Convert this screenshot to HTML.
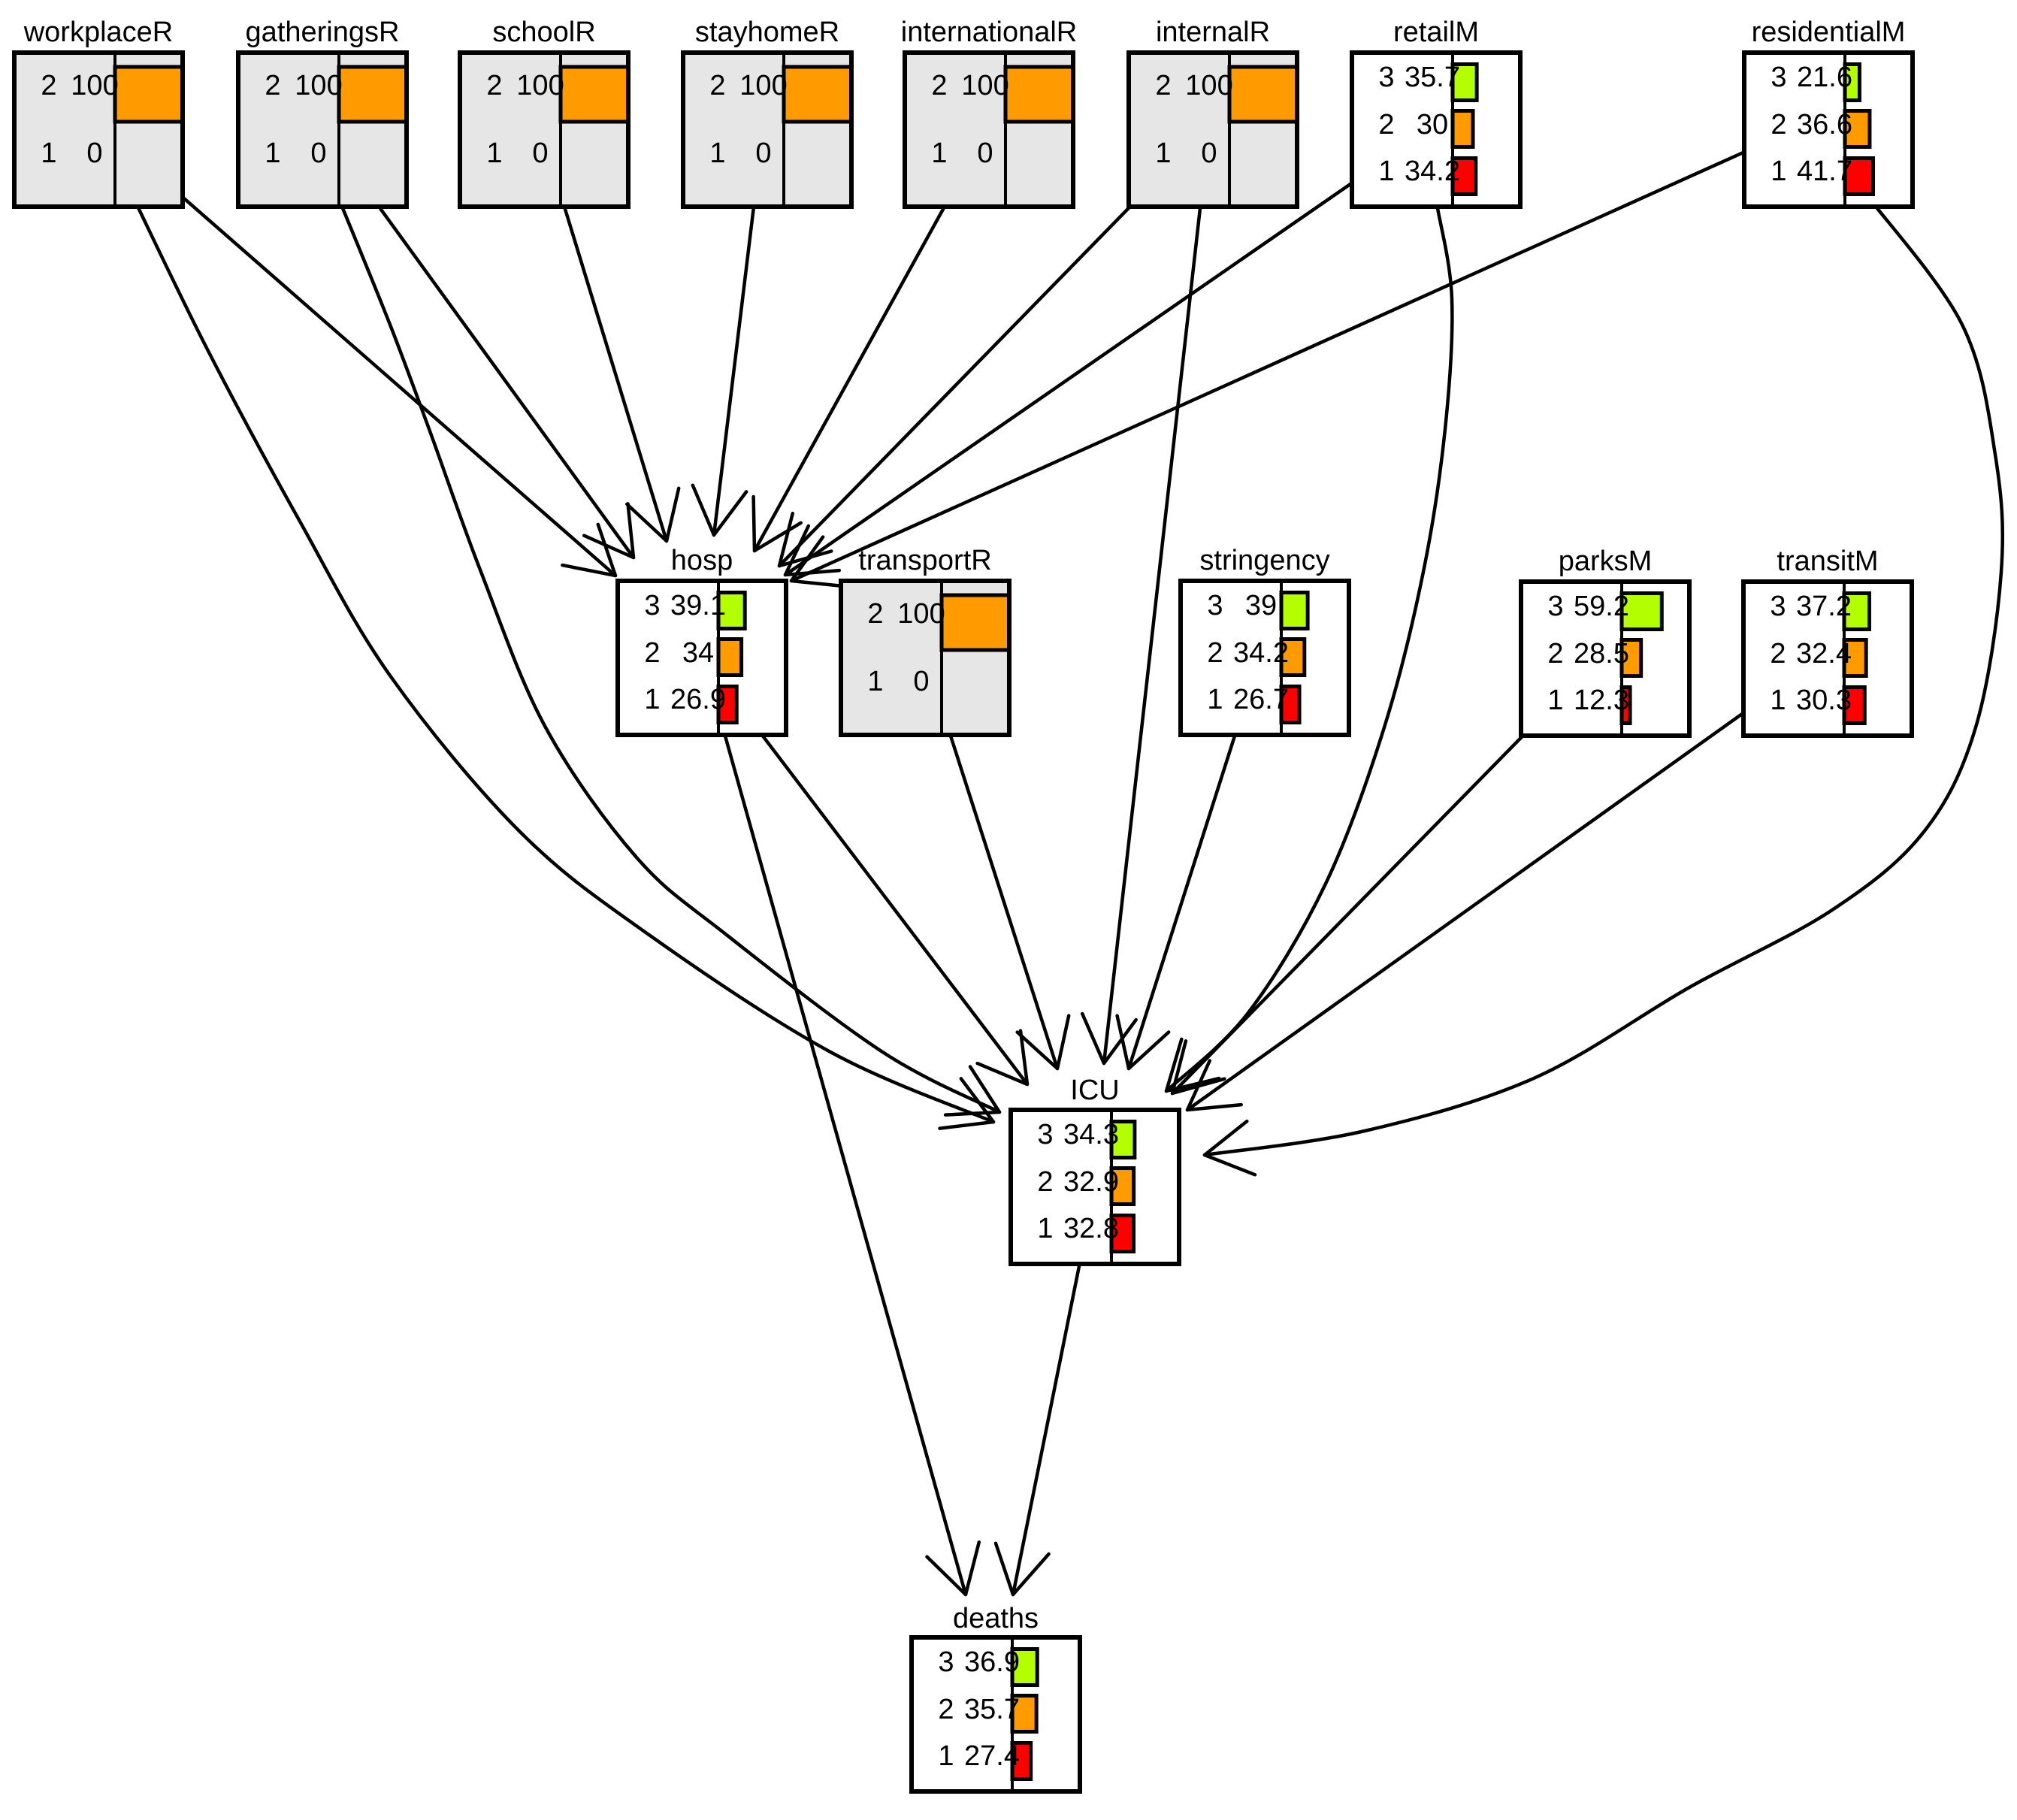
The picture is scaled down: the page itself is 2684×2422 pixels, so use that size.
<!DOCTYPE html>
<html><head><meta charset="utf-8"><style>
html,body{margin:0;padding:0;background:#fff;}
svg{display:block;}
text{font-family:"Liberation Sans",Arial,sans-serif;font-size:38px;fill:#000;}
</style></head><body>
<svg id="s" width="2684" height="2422" viewBox="0 0 2684 2422" xmlns="http://www.w3.org/2000/svg">
<g id="edges" fill="none" stroke="#000" stroke-width="4.5" stroke-linecap="round" stroke-linejoin="round"></g>
<g id="boxes"></g>
<g id="labels" text-anchor="middle">
<text x="131" y="55">workplaceR</text>
<text x="429" y="55">gatheringsR</text>
<text x="724" y="55">schoolR</text>
<text x="1021" y="55">stayhomeR</text>
<text x="1316" y="55">internationalR</text>
<text x="1614" y="55">internalR</text>
<text x="1911" y="55">retailM</text>
<text x="2433" y="55">residentialM</text>
<text x="934" y="758">hosp</text>
<text x="1231" y="758">transportR</text>
<text x="1683" y="758">stringency</text>
<text x="2136" y="759">parksM</text>
<text x="2432" y="759">transitM</text>
<text x="1457" y="1463">ICU</text>
<text x="1325" y="2166">deaths</text>

<text x="65" y="126">2</text><text x="126" y="126">100</text><text x="65" y="216">1</text><text x="126" y="216">0</text>
<text x="363" y="126">2</text><text x="424" y="126">100</text><text x="363" y="216">1</text><text x="424" y="216">0</text>
<text x="658" y="126">2</text><text x="719" y="126">100</text><text x="658" y="216">1</text><text x="719" y="216">0</text>
<text x="955" y="126">2</text><text x="1016" y="126">100</text><text x="955" y="216">1</text><text x="1016" y="216">0</text>
<text x="1250" y="126">2</text><text x="1311" y="126">100</text><text x="1250" y="216">1</text><text x="1311" y="216">0</text>
<text x="1548" y="126">2</text><text x="1609" y="126">100</text><text x="1548" y="216">1</text><text x="1609" y="216">0</text>
<text x="1165" y="829">2</text><text x="1226" y="829">100</text><text x="1165" y="919">1</text><text x="1226" y="919">0</text>

<text x="1845" y="115">3</text><text x="1906" y="115">35.7</text>
<text x="1845" y="178">2</text><text x="1906" y="178">30</text>
<text x="1845" y="240">1</text><text x="1906" y="240">34.2</text>

<text x="2367" y="115">3</text><text x="2428" y="115">21.6</text>
<text x="2367" y="178">2</text><text x="2428" y="178">36.6</text>
<text x="2367" y="240">1</text><text x="2428" y="240">41.7</text>

<text x="868" y="818">3</text><text x="929" y="818">39.1</text>
<text x="868" y="881">2</text><text x="929" y="881">34</text>
<text x="868" y="943">1</text><text x="929" y="943">26.9</text>

<text x="1617" y="818">3</text><text x="1678" y="818">39</text>
<text x="1617" y="881">2</text><text x="1678" y="881">34.2</text>
<text x="1617" y="943">1</text><text x="1678" y="943">26.7</text>

<text x="2070" y="819">3</text><text x="2131" y="819">59.2</text>
<text x="2070" y="882">2</text><text x="2131" y="882">28.5</text>
<text x="2070" y="944">1</text><text x="2131" y="944">12.3</text>

<text x="2366" y="819">3</text><text x="2427" y="819">37.2</text>
<text x="2366" y="882">2</text><text x="2427" y="882">32.4</text>
<text x="2366" y="944">1</text><text x="2427" y="944">30.3</text>

<text x="1391" y="1522">3</text><text x="1452" y="1522">34.3</text>
<text x="1391" y="1585">2</text><text x="1452" y="1585">32.9</text>
<text x="1391" y="1647">1</text><text x="1452" y="1647">32.8</text>

<text x="1259" y="2224">3</text><text x="1320" y="2224">36.9</text>
<text x="1259" y="2287">2</text><text x="1320" y="2287">35.7</text>
<text x="1259" y="2349">1</text><text x="1320" y="2349">27.4</text>
</g>
</svg>
<script>
(function(){
var NS="http://www.w3.org/2000/svg";
function el(p,t,a){var e=document.createElementNS(NS,t);for(var k in a)e.setAttribute(k,a[k]);p.appendChild(e);return e;}
var W=224,H=205,SP=134,RW=W-SP;
var G="#b3ff00",O="#ff9a00",R="#ff0000";
var nodes=[
[19,70,2],[317,70,2],[612,70,2],[909,70,2],[1204,70,2],[1502,70,2],
[1799,70,3,[35.7,30,34.2]],[2321,70,3,[21.6,36.6,41.7]],
[822,773,3,[39.1,34,26.9]],[1119,773,2],[1571,773,3,[39,34.2,26.7]],
[2024,774,3,[59.2,28.5,12.3]],[2320,774,3,[37.2,32.4,30.3]],
[1345,1477,3,[34.3,32.9,32.8]],[1213,2179,3,[36.9,35.7,27.4]]
];
var bx=document.getElementById("boxes");
nodes.forEach(function(n){
var x=n[0],y=n[1];
var grey=n[2]==2;
el(bx,"rect",{x:x,y:y,width:W,height:H,fill:grey?"#e6e6e6":"#fff",stroke:"none"});
if(grey){
el(bx,"rect",{x:x+SP,y:y+19,width:RW,height:73,fill:O,stroke:"#000","stroke-width":5});
}else{
var offs=[13,75,138],cols=[G,O,R];
for(var i=0;i<3;i++){
el(bx,"rect",{x:x+SP,y:y+offs[i]+2.5,width:Math.max(2,n[3][i]*RW/100),height:48,fill:cols[i],stroke:"#000","stroke-width":5});
}
}
el(bx,"line",{x1:x+SP,y1:y,x2:x+SP,y2:y+H,stroke:"#000","stroke-width":4});
el(bx,"rect",{x:x,y:y,width:W,height:H,fill:"none",stroke:"#000","stroke-width":6});
});
var edges=[
[[214,237],[819,766]],
[[177,262],[277,467],[398,692],[519,899],[692,1107],[865,1245],[1107,1401],[1322,1493]],
[[489,254],[843,742]],
[[456,277],[519,432],[571,571],[640,761],[726,968],[847,1141],[968,1245],[1176,1401],[1330,1480]],
[[751,275],[887,720]],
[[1003,275],[950,712]],
[[1264,262],[1004,733]],
[[1536,242],[1037,753]],
[[1597,277],[1469,1415]],
[[1820,229],[1045,765]],
[[1913,277],[1932,398],[1923,571],[1894,761],[1842,968],[1764,1176],[1660,1349],[1552,1452]],
[[2324,201],[1053,773]],
[[2486,262],[2611,432],[2655,605],[2663,761],[2629,968],[2560,1107],[2438,1211],[2248,1314],[2041,1435],[1816,1505],[1603,1537]],
[[995,953],[1367,1443]],
[[964,976],[1285,2122]],
[[1262,970],[1407,1422]],
[[1646,970],[1502,1422]],
[[2059,946],[1560,1455]],
[[2342,933],[1580,1477]],
[[1437,1680],[1348,2122]]
];
var eg=document.getElementById("edges");
edges.forEach(function(p){
var d="M"+p[0][0]+","+p[0][1];
if(p.length==2){d+=" L"+p[1][0]+","+p[1][1];}
else{
for(var i=0;i<p.length-1;i++){
var p0=p[Math.max(0,i-1)],p1=p[i],p2=p[i+1],p3=p[Math.min(p.length-1,i+2)];
var c1=[p1[0]+(p2[0]-p0[0])/6,p1[1]+(p2[1]-p0[1])/6];
var c2=[p2[0]-(p3[0]-p1[0])/6,p2[1]-(p3[1]-p1[1])/6];
d+=" C"+c1[0].toFixed(1)+","+c1[1].toFixed(1)+" "+c2[0].toFixed(1)+","+c2[1].toFixed(1)+" "+p2[0]+","+p2[1];
}
}
el(eg,"path",{d:d});
var t=p[p.length-1],q=p[p.length-2];
var ang=Math.atan2(q[1]-t[1],q[0]-t[0]);
var L=72,a=Math.PI/6;
var a1=[t[0]+L*Math.cos(ang+a),t[1]+L*Math.sin(ang+a)];
var a2=[t[0]+L*Math.cos(ang-a),t[1]+L*Math.sin(ang-a)];
el(eg,"path",{d:"M"+a1[0].toFixed(1)+","+a1[1].toFixed(1)+" L"+t[0]+","+t[1]+" L"+a2[0].toFixed(1)+","+a2[1].toFixed(1)});
});
})();
</script>
</body></html>
